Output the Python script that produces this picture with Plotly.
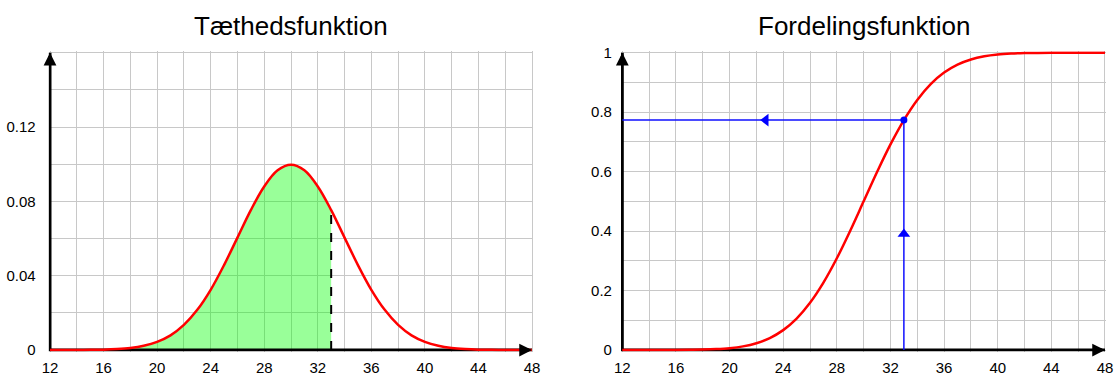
import plotly.graph_objects as go

# ---- data ----
x_vals = list(range(12, 49))
density = [0.0000, 0.0000, 0.0000, 0.0001, 0.0002, 0.0005, 0.0011, 0.0023, 0.0044,
           0.0079, 0.0135, 0.0216, 0.0324, 0.0457, 0.0605, 0.0753, 0.0880, 0.0967,
           0.0997, 0.0967, 0.0880, 0.0753, 0.0605, 0.0457, 0.0324, 0.0216, 0.0135,
           0.0079, 0.0044, 0.0023, 0.0011, 0.0005, 0.0002, 0.0001, 0.0000, 0.0000, 0.0000]
cdf = [0.0000, 0.0000, 0.0000, 0.0001, 0.0002, 0.0006, 0.0013, 0.0030, 0.0062,
       0.0122, 0.0228, 0.0401, 0.0668, 0.1056, 0.1587, 0.2266, 0.3085, 0.4013,
       0.5000, 0.5987, 0.6915, 0.7734, 0.8413, 0.8944, 0.9332, 0.9599, 0.9772,
       0.9878, 0.9938, 0.9970, 0.9987, 0.9994, 0.9998, 0.9999, 1.0000, 1.0000, 1.0000]
x_cut = 33
dens_cut = 0.0753
cdf_cut = 0.7734
arrow_h_x = 22.7   # position of the left-pointing arrowhead on the horizontal blue line
arrow_v_y = 0.39   # position of the up-pointing arrowhead on the vertical blue line

x_ticks = list(range(12, 49, 2))
x_ticktext = [str(v) if v % 4 == 0 else "" for v in x_ticks]
y1_ticks = [0, 0.02, 0.04, 0.06, 0.08, 0.10, 0.12, 0.14, 0.16]
y1_ticktext = ["0", "", "0.04", "", "0.08", "", "0.12", "", ""]
y2_ticks = [0, 0.1, 0.2, 0.3, 0.4, 0.5, 0.6, 0.7, 0.8, 0.9, 1.0]
y2_ticktext = ["0", "", "0.2", "", "0.4", "", "0.6", "", "0.8", "", "1"]
titles = ["Tæthedsfunktion", "Fordelingsfunktion"]

FONT = "Liberation Sans, Arial, sans-serif"
GRID = "#c8c8c8"
RED = "#ff0000"
BLUE = "#1010ff"

n_cut = x_vals.index(x_cut) + 1

fig = go.Figure()

# ---- left: density ----
fig.add_trace(go.Scatter(x=x_vals[:n_cut], y=density[:n_cut], mode="lines",
                         line=dict(width=0, shape="spline"), fill="tozeroy",
                         fillcolor="rgba(0,255,0,0.4)", xaxis="x", yaxis="y",
                         hoverinfo="skip", showlegend=False))
fig.add_trace(go.Scatter(x=[x_vals[0], x_vals[0], x_vals[-1]], y=[y1_ticks[-1], 0, 0],
                         mode="lines", line=dict(color="black", width=3),
                         xaxis="x", yaxis="y", showlegend=False, hoverinfo="skip"))
fig.add_trace(go.Scatter(x=x_vals, y=density, mode="lines",
                         line=dict(color=RED, width=2.5, shape="spline"),
                         xaxis="x", yaxis="y", showlegend=False))
fig.add_trace(go.Scatter(x=[x_cut, x_cut], y=[0, dens_cut], mode="lines",
                         line=dict(color="black", width=2, dash="dash"),
                         xaxis="x", yaxis="y", showlegend=False))

# ---- right: cdf ----
fig.add_trace(go.Scatter(x=[x_vals[0], x_vals[0], x_vals[-1]], y=[y2_ticks[-1], 0, 0],
                         mode="lines", line=dict(color="black", width=3),
                         xaxis="x2", yaxis="y2", showlegend=False, hoverinfo="skip"))
fig.add_trace(go.Scatter(x=[x_vals[0], x_cut, x_cut], y=[cdf_cut, cdf_cut, 0], mode="lines",
                         line=dict(color=BLUE, width=1.5),
                         xaxis="x2", yaxis="y2", showlegend=False))
fig.add_trace(go.Scatter(x=x_vals, y=cdf, mode="lines",
                         line=dict(color=RED, width=2.5, shape="spline"),
                         xaxis="x2", yaxis="y2", showlegend=False))
fig.add_trace(go.Scatter(x=[x_cut], y=[cdf_cut], mode="markers",
                         marker=dict(color="blue", size=7),
                         xaxis="x2", yaxis="y2", showlegend=False, cliponaxis=False))
fig.add_trace(go.Scatter(x=[arrow_h_x, x_cut], y=[cdf_cut, arrow_v_y], mode="markers",
                         marker=dict(color="blue", size=11, symbol=["triangle-left", "triangle-up"]),
                         xaxis="x2", yaxis="y2", showlegend=False, cliponaxis=False))

W, H = 1117, 374
# pixel geometry
L1, R1 = 50.0, 532.0
L2, R2 = 622.3, 1105.0
Y0, YT = 350.0, 52.7
xpad = 0.1


def xdom(l, r):
    ppu = (r - l) / 36.0
    return [(l - xpad * ppu) / W, (r + xpad * ppu) / W]


def ydom(top_val):
    ppu = (Y0 - YT) / top_val
    pad = 1.5 / ppu
    return pad, [(H - (Y0 + 1.5)) / H, (H - (YT - 1.5)) / H]


pad1, yd = ydom(0.16)
pad2, _ = ydom(1.0)

axis_common = dict(showline=False, zeroline=False, showgrid=True, gridcolor=GRID, gridwidth=1,
                   tickfont=dict(family=FONT, size=15, color="black"), ticks="outside",
                   tickcolor="rgba(0,0,0,0)", tickmode="array", automargin=False)

fig.update_layout(
    width=W, height=H, margin=dict(l=0, r=0, t=0, b=0, autoexpand=False),
    paper_bgcolor="white", plot_bgcolor="white", showlegend=False,
    xaxis=dict(domain=xdom(L1, R1), range=[12 - xpad, 48 + xpad], anchor="y",
               tickvals=x_ticks, ticktext=x_ticktext, ticklen=2, **axis_common),
    yaxis=dict(domain=yd, range=[-pad1, 0.16 + pad1], anchor="x",
               tickvals=y1_ticks, ticktext=y1_ticktext, ticklen=9, **axis_common),
    xaxis2=dict(domain=xdom(L2, R2), range=[12 - xpad, 48 + xpad], anchor="y2",
                tickvals=x_ticks, ticktext=x_ticktext, ticklen=2, **axis_common),
    yaxis2=dict(domain=yd, range=[-pad2, 1.0 + pad2], anchor="x2",
                tickvals=y2_ticks, ticktext=y2_ticktext, ticklen=5, **axis_common),
)

annotations = []
for i, (t, l, r) in enumerate([(titles[0], L1, R1), (titles[1], L2, R2)]):
    annotations.append(dict(text=t, x=(l + r) / 2 / W, y=(H - 25.5) / H, xref="paper", yref="paper",
                            xanchor="center", yanchor="middle", showarrow=False,
                            font=dict(family=FONT, size=26, color="black")))
# axis arrowheads
for xr, yr, ytop in [("x", "y", 0.16), ("x2", "y2", 1.0)]:
    annotations.append(dict(x=12, y=ytop, xref=xr, yref=yr, ax=0, ay=12, text="",
                            showarrow=True, arrowhead=2, arrowsize=0.85, arrowwidth=3,
                            arrowcolor="black", standoff=0))
    annotations.append(dict(x=48, y=0, xref=xr, yref=yr, ax=-12, ay=0, text="",
                            showarrow=True, arrowhead=2, arrowsize=0.85, arrowwidth=3,
                            arrowcolor="black", standoff=0))
fig.update_layout(annotations=annotations)

fig.write_html("out.html")
